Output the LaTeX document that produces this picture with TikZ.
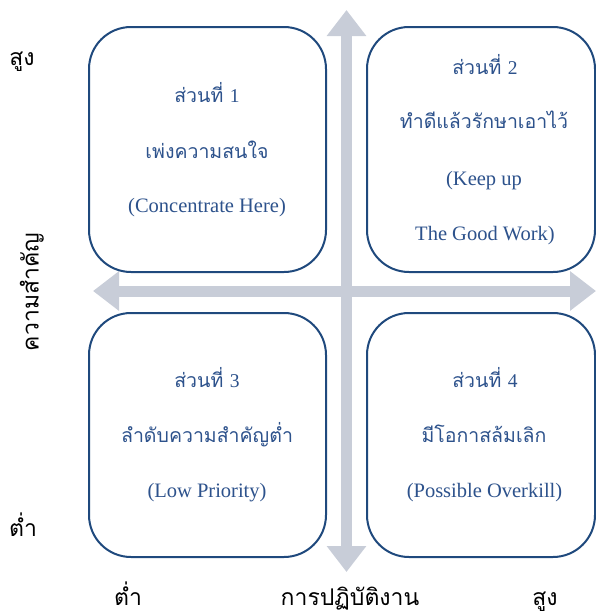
\documentclass[tikz,border=0pt]{standalone}
\usepackage{fontspec}
\setmainfont{Liberation Serif}
\newfontfamily\thai[Script=Thai]{Loma}
\usetikzlibrary{arrows.meta}

\definecolor{boxline}{RGB}{31,73,125}
\definecolor{boxtext}{RGB}{45,82,140}
\definecolor{axisgray}{RGB}{200,205,216}

\tikzset{
  quad/.style={draw=boxline, line width=2pt, rounded corners=42pt, fill=white},
  qtext/.style={text=boxtext, anchor=base, inner sep=0pt, font=\fontsize{20.5}{24}\selectfont},
  qthai/.style={qtext, font=\thai\fontsize{19.5}{24}\selectfont},
  axislabel/.style={text=black, anchor=base, inner sep=0pt, font=\thai\fontsize{23}{26}\selectfont},
  axis/.style={draw=axisgray, line width=11pt,
    {Triangle[width=38pt,length=26pt]}-{Triangle[width=38pt,length=26pt]}}
}

\begin{document}
\begin{tikzpicture}[x=1pt,y=-1pt]
\useasboundingbox (0,0) rectangle (596,614);

% axes
\coordinate (vtop) at (346.5,10);
\coordinate (vbot) at (346.5,572);
\coordinate (hleft) at (93,291);
\coordinate (hright) at (596,291);
\draw[axis] (vtop) -- (vbot);
\draw[axis] (hleft) -- (hright);

% quadrants
\node[quad, minimum width=237pt, minimum height=245pt] (q1) at (207.5,149.5) {};
\node[quad, minimum width=228pt, minimum height=245pt] (q2) at (481,149.5) {};
\node[quad, minimum width=237pt, minimum height=244pt] (q3) at (207.5,435) {};
\node[quad, minimum width=228pt, minimum height=244pt] (q4) at (481,435) {};

% quadrant 1
\node[qthai] (q1a) at (207,102) {ส่วนที่ {\rmfamily 1}};
\node[qthai] (q1b) at (207,158) {เพ่งความสนใจ};
\node[qtext] (q1c) at (207,212) {(Concentrate Here)};

% quadrant 2
\node[qthai] (q2a) at (485,74) {ส่วนที่ {\rmfamily 2}};
\node[qthai] (q2b) at (484,128) {ทำดีแล้วรักษาเอาไว้};
\node[qtext] (q2c) at (484,185) {(Keep up};
\node[qtext] (q2d) at (485,240) {The Good Work)};

% quadrant 3
\node[qthai] (q3a) at (207,387) {ส่วนที่ {\rmfamily 3}};
\node[qthai] (q3b) at (207,442) {ลำดับความสำคัญต่ำ};
\node[qtext] (q3c) at (207,497) {(Low Priority)};

% quadrant 4
\node[qthai] (q4a) at (485,387) {ส่วนที่ {\rmfamily 4}};
\node[qthai] (q4b) at (484,442) {มีโอกาสล้มเลิก};
\node[qtext] (q4c) at (484.5,497) {(Possible Overkill)};

% axis labels
\node[axislabel] (yhigh) at (22,65) {สูง};
\node[axislabel] (ylow) at (23,536) {ต่ำ};
\node[axislabel, rotate=90, anchor=center] (ytitle) at (32,292) {ความสำคัญ};
\node[axislabel] (xlow) at (128,605) {ต่ำ};
\node[axislabel] (xtitle) at (350,605) {การปฏิบัติงาน};
\node[axislabel] (xhigh) at (545,605) {สูง};
\end{tikzpicture}
\end{document}
